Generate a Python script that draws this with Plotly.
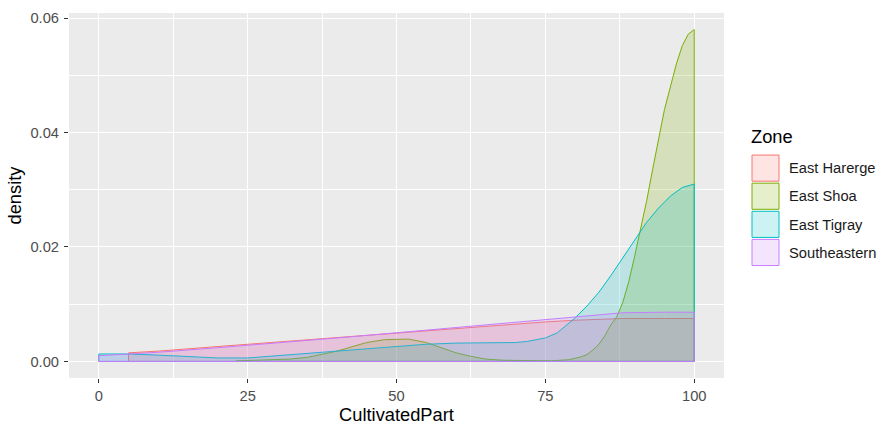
import plotly.graph_objects as go

# ---- data ----
zones = ["East Harerge", "East Shoa", "East Tigray", "Southeastern"]
colors = ["#F8766D", "#7CAE00", "#00BFC4", "#C77CFF"]
fills = ["rgba(248,118,109,0.2)", "rgba(124,174,0,0.2)", "rgba(0,191,196,0.2)", "rgba(199,124,255,0.2)"]

harerge_x = [5, 10, 20, 30, 40, 50, 60, 70, 75, 80, 88, 95, 100]
harerge_y = [0.0015, 0.0018, 0.0026, 0.0034, 0.0042, 0.0049, 0.0058, 0.0066, 0.0069, 0.0072, 0.0075, 0.0075, 0.0075]

shoa_x = [23, 28, 32, 35, 38, 40, 42, 45, 48, 50, 52, 55, 58, 60, 62, 65, 68, 72, 76, 79, 81, 82, 83, 84, 85, 86,
          87, 88, 89, 90, 91, 92, 93, 94, 95, 96, 97, 98, 99, 100]
shoa_y = [0.0001, 0.0002, 0.0004, 0.0007, 0.0013, 0.0018, 0.0024, 0.0033, 0.0038, 0.0039, 0.0039, 0.0033, 0.0023,
          0.0015, 0.0010, 0.0004, 0.0002, 0.0001, 0.0001, 0.0003, 0.0008, 0.0012, 0.0020, 0.0030, 0.0045, 0.0064,
          0.0078, 0.0103, 0.0139, 0.0184, 0.0230, 0.0280, 0.0335, 0.0390, 0.0440, 0.0480, 0.0520, 0.0552, 0.0572, 0.0580]

tigray_x = [0, 5, 10, 15, 20, 25, 30, 35, 40, 45, 50, 55, 60, 65, 70, 72, 75, 77, 80, 82, 84, 86, 88, 90, 92, 94,
            96, 98, 100]
tigray_y = [0.0013, 0.0013, 0.0011, 0.0008, 0.0006, 0.0006, 0.0010, 0.0014, 0.0018, 0.0023, 0.0026, 0.0030, 0.0032,
            0.0032, 0.0033, 0.0035, 0.0041, 0.0050, 0.0076, 0.0097, 0.0121, 0.0150, 0.0181, 0.0213, 0.0243, 0.0268,
            0.0289, 0.0304, 0.0310]

southeast_x = [0, 10, 20, 30, 40, 50, 60, 70, 75, 80, 88, 95, 100]
southeast_y = [0.0010, 0.0016, 0.0024, 0.0032, 0.0041, 0.0050, 0.0059, 0.0068, 0.0073, 0.0078, 0.0085, 0.0086, 0.0086]

series_x = [harerge_x, shoa_x, tigray_x, southeast_x]
series_y = [harerge_y, shoa_y, tigray_y, southeast_y]

x_ticks = [0, 25, 50, 75, 100]
y_ticks = [0.00, 0.02, 0.04, 0.06]

FONT = "Arial, Liberation Sans, sans-serif"
TICK_SIZE = 14.7
TITLE_SIZE = 18.3

fig = go.Figure()
for name, xs, ys, c, f in zip(zones, series_x, series_y, colors, fills):
    px_ = list(xs) + [xs[-1], xs[0], xs[0]]
    py_ = list(ys) + [0, 0, ys[0]]
    fig.add_trace(go.Scatter(x=px_, y=py_, mode="lines", fill="toself", fillcolor=f,
                             line=dict(color=c, width=1), name=name, showlegend=False,
                             hoverinfo="skip"))

# manual ggplot-style legend
W, H = 881, 428
ml, mr, mt, mb = 69, 157, 10, 48
pw, ph = W - ml - mr, H - mt - mb


def px2paper_x(p):
    return (p - ml) / pw


def px2paper_y(p):
    return (H - mb - p) / ph


shapes = []
annotations = []
key_x0, key_x1 = 752, 779
key_tops = [154, 182.5, 211, 239.5]

annotations.append(dict(x=px2paper_x(749), y=px2paper_y(135), xref="paper", yref="paper", text="Zone",
                        showarrow=False, xanchor="left", yanchor="middle",
                        font=dict(family=FONT, size=TITLE_SIZE, color="black")))
for name, c, f, top in zip(zones, colors, fills, key_tops):
    shapes.append(dict(type="rect", xref="paper", yref="paper",
                       x0=px2paper_x(key_x0), x1=px2paper_x(key_x1),
                       y0=px2paper_y(top + 26.5), y1=px2paper_y(top),
                       line=dict(color=c, width=1), fillcolor=f, layer="above"))
    annotations.append(dict(x=px2paper_x(787), y=px2paper_y(top + 13.5), xref="paper", yref="paper",
                            text=name, showarrow=False, xanchor="left", yanchor="middle",
                            font=dict(family=FONT, size=TICK_SIZE, color="#1A1A1A")))

fig.update_layout(
    width=W, height=H,
    margin=dict(l=ml, r=mr, t=mt, b=mb, pad=0),
    paper_bgcolor="white", plot_bgcolor="#EBEBEB",
    font=dict(family=FONT, size=TICK_SIZE, color="#4D4D4D"),
    shapes=shapes, annotations=annotations,
    showlegend=False,
)
fig.update_xaxes(range=[-5, 105], tickvals=x_ticks, ticktext=[str(v) for v in x_ticks],
                 showgrid=True, gridcolor="white", gridwidth=1.3, zeroline=False,
                 ticks="outside", ticklen=4, tickwidth=1, tickcolor="#333333",
                 tickfont=dict(family=FONT, size=TICK_SIZE, color="#4D4D4D"),
                 minor=dict(tickvals=[12.5, 37.5, 62.5, 87.5], showgrid=True, gridcolor="white", gridwidth=0.6),
                 title=dict(text="CultivatedPart", font=dict(family=FONT, size=TITLE_SIZE, color="black"), standoff=2),
                 showline=False)
fig.update_yaxes(range=[-0.0029, 0.0609], tickvals=y_ticks, ticktext=["0.00", "0.02", "0.04", "0.06"],
                 showgrid=True, gridcolor="white", gridwidth=1.3, zeroline=False,
                 ticks="outside", ticklen=4, tickwidth=1, tickcolor="#333333",
                 tickfont=dict(family=FONT, size=TICK_SIZE, color="#4D4D4D"),
                 ticklabelstandoff=2,
                 minor=dict(tickvals=[0.01, 0.03, 0.05], showgrid=True, gridcolor="white", gridwidth=0.6),
                 title=dict(text="density", font=dict(family=FONT, size=TITLE_SIZE, color="black"), standoff=4),
                 showline=False)

fig.write_html("out.html")
